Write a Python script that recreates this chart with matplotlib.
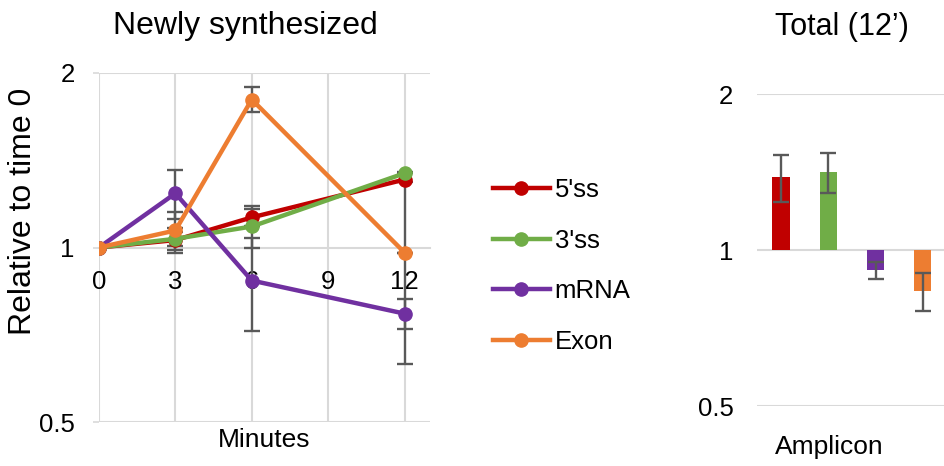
import numpy as np
import matplotlib
matplotlib.use("Agg")
import matplotlib.pyplot as plt
from matplotlib.ticker import FixedLocator, NullLocator, FixedFormatter

plt.rcParams['font.family'] = ['Liberation Sans', 'DejaVu Sans']

# data
minutes = [0, 3, 6, 12]
series = ["5'ss", "3'ss", "mRNA", "Exon"]
colors = ['#C00000', '#70AD47', '#7030A0', '#ED7D31']

vals = {
    "5'ss": [1.0, 1.03, 1.127, 1.31],
    "3'ss": [1.0, 1.035, 1.087, 1.343],
    "mRNA": [1.0, 1.24, 0.877, 0.769],
    "Exon": [1.0, 1.07, 1.80, 0.98],
}
err_lo = {
    "5'ss": [0, 0.05, 0.04, 0.68],
    "3'ss": [0, 0.03, 0.09, 0.045],
    "mRNA": [0, 0.12, 0.16, 0.045],
    "Exon": [0, 0.08, 0.09, 0.0],
}
err_hi = {
    "5'ss": [0, 0.05, 0.04, 0.04],
    "3'ss": [0, 0.03, 0.09, 0.0],
    "mRNA": [0, 0.12, 0.16, 0.045],
    "Exon": [0, 0.08, 0.09, 0.0],
}

total_vals = [1.383, 1.414, 0.915, 0.834]
total_err = [0.145, 0.128, 0.035, 0.07]

grid_c = '#D9D9D9'
err_c = '#595959'

fig = plt.figure(figsize=(9.45, 4.66), dpi=100)

# ---- left: newly synthesized ----
ax = fig.add_axes([99/945, 44/466, 331/945, 349/466])
ax.set_yscale('log')
ax.set_ylim(0.5, 2)
ax.set_xlim(0, 13)
for s in ['top', 'right', 'left']:
    ax.spines[s].set_visible(False)
ax.spines['bottom'].set_position(('data', 1))
ax.spines['bottom'].set_color(grid_c)
ax.spines['bottom'].set_linewidth(1.5)
ax.spines['bottom'].set_zorder(0.5)

for yv in [0.5, 2]:
    ax.axhline(yv, color=grid_c, lw=1.5, zorder=0)
for xv in [0, 3, 6, 9, 12]:
    ax.axvline(xv, color=grid_c, lw=1.5, zorder=0)

ax.yaxis.set_major_locator(FixedLocator([0.5, 1, 2]))
ax.yaxis.set_major_formatter(FixedFormatter(['0.5', '1', '2']))
ax.yaxis.set_minor_locator(NullLocator())
ax.tick_params(axis='y', length=4.5, width=1.2, color=grid_c, pad=13, labelsize=18.5)
ax.set_xticks([0, 3, 6, 9, 12])
ax.tick_params(axis='x', length=0, pad=16, labelsize=18.5)

for name, c in zip(series, colors):
    ax.errorbar(minutes, vals[name], yerr=[err_lo[name], err_hi[name]],
                color=c, lw=3.2, marker='o', ms=9.5, label=name,
                ecolor=err_c, elinewidth=1.7, capsize=5.5, capthick=1.7)

ax.text(0.5, -0.052, 'Minutes', transform=ax.transAxes, ha='center', va='center', fontsize=19)
fig.text(245/945, 1 - 26/466, 'Newly synthesized', ha='center', va='center', fontsize=23)

fig.text(23/945, 1 - 211/466, 'Relative to time 0', rotation=90,
         ha='center', va='center', fontsize=23)

handles, labels = ax.get_legend_handles_labels()
handles = [h[0] for h in handles]
fig.legend(handles, labels, loc='center left', bbox_to_anchor=(493/945, 1 - 266/466),
           frameon=False, fontsize=18.5, handlelength=2.2, handletextpad=0.2,
           labelspacing=1.05, borderpad=0, borderaxespad=0)

# ---- right: total ----
ax2 = fig.add_axes([757/945, 60/466, 188/945, 312/466])
ax2.set_yscale('log')
ax2.set_ylim(0.5, 2)
pos = np.arange(len(series))
ax2.set_xlim(-0.507, 3.467)
for s in ax2.spines.values():
    s.set_visible(False)
for yv in [0.5, 1, 2]:
    ax2.axhline(yv, color=grid_c, lw=1.5, zorder=0)
ax2.bar(pos, np.array(total_vals) - 1, bottom=1, width=0.36, color=colors, zorder=2)
ax2.errorbar(pos, total_vals, yerr=total_err, fmt='none', ecolor=err_c,
             elinewidth=1.7, capsize=5.5, capthick=1.7, zorder=3)
ax2.yaxis.set_major_locator(FixedLocator([0.5, 1, 2]))
ax2.yaxis.set_major_formatter(FixedFormatter(['0.5', '1', '2']))
ax2.yaxis.set_minor_locator(NullLocator())
ax2.tick_params(axis='y', length=0, pad=17, labelsize=18.5)
ax2.set_xticks([])
fig.text(829/945, 1 - 447/466, 'Amplicon', ha='center', va='center', fontsize=19)
fig.text(842/945, 1 - 27/466, 'Total (12\u2019)', ha='center', va='center', fontsize=22)

fig.savefig('out.png', dpi=100)
